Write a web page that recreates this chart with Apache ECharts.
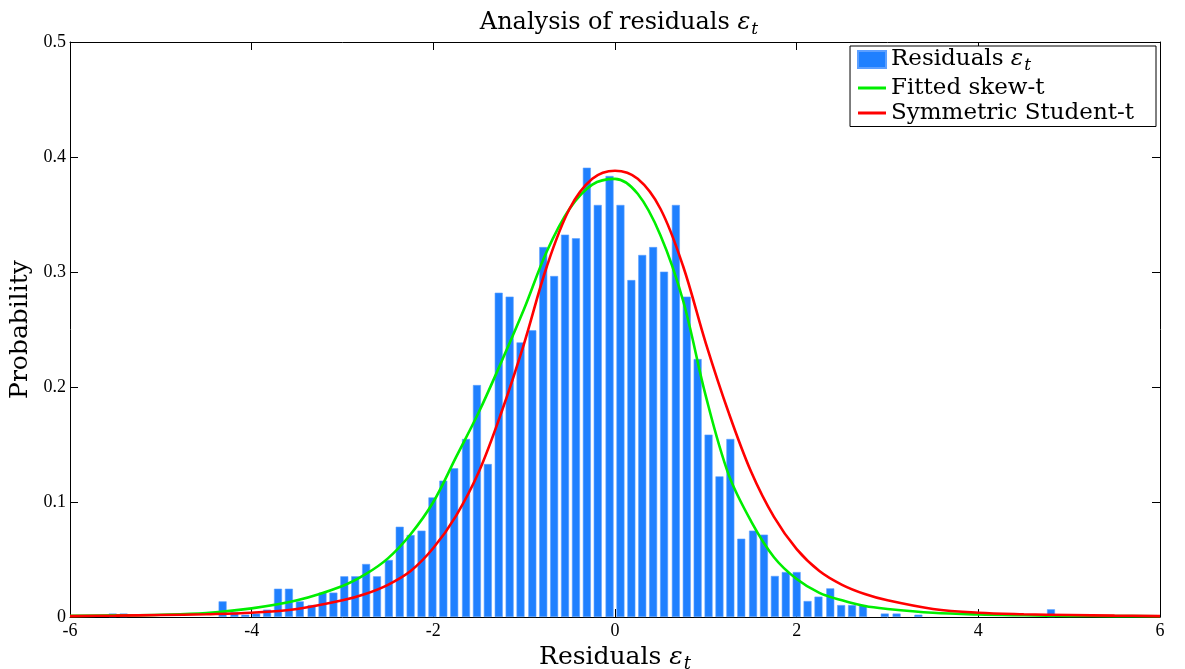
<!DOCTYPE html>
<html>
<head>
<meta charset="utf-8">
<title>Analysis of residuals</title>
<script src="https://cdn.jsdelivr.net/npm/echarts@6/dist/echarts.min.js"></script>
<style>
  html, body { margin: 0; padding: 0; background: #fff; }
  #chart { width: 1185px; height: 669px; }
</style>
</head>
<body>
<div id="chart"></div>
<script>
  // histogram of residuals (bin centres and heights)
  var binCenters = [-5.53, -5.41, -4.32, -4.19, -4.07, -3.95, -3.83, -3.71, -3.59, -3.47, -3.34, -3.22, -3.10,
    -2.98, -2.86, -2.74, -2.62, -2.49, -2.37, -2.25, -2.13, -2.01, -1.89, -1.77, -1.64, -1.52, -1.40, -1.28,
    -1.16, -1.04, -0.91, -0.79, -0.67, -0.55, -0.43, -0.31, -0.19, -0.06, 0.06, 0.18, 0.30, 0.42, 0.54, 0.67,
    0.79, 0.91, 1.03, 1.15, 1.27, 1.39, 1.52, 1.64, 1.76, 1.88, 2.00, 2.12, 2.24, 2.37, 2.49, 2.61, 2.73,
    2.97, 3.10, 3.34, 4.80];
  var binProb = [0.003, 0.003, 0.0136, 0.0043, 0.002, 0.003, 0.0064, 0.0246, 0.0246, 0.0136, 0.0104, 0.0212, 0.0212,
    0.0354, 0.0354, 0.0461, 0.0354, 0.0496, 0.0785, 0.0713, 0.0751, 0.104, 0.1186, 0.1293, 0.1548, 0.2017, 0.133, 0.282,
    0.2786, 0.2388, 0.2493, 0.3217, 0.2965, 0.3325, 0.3293, 0.3907, 0.3583, 0.3835, 0.3583, 0.293, 0.3148, 0.3217, 0.3003, 0.3583,
    0.2786, 0.2243, 0.1586, 0.1223, 0.1548, 0.0681, 0.0751, 0.0716, 0.0357, 0.0391, 0.0391, 0.0139, 0.0177, 0.0249, 0.0104, 0.0104, 0.0104,
    0.003, 0.003, 0.002, 0.0067];

  // fitted densities
  var curveX = [-6, -5.5, -5, -4.5, -4, -3.5, -3, -2.75, -2.5, -2.25, -2, -1.75, -1.5, -1.25, -1, -0.75, -0.5, -0.25, 0,
    0.25, 0.5, 0.75, 1, 1.25, 1.5, 1.75, 2, 2.25, 2.5, 2.75, 3, 3.5, 4, 4.5, 5, 5.5, 6];
  var skewT = [0.0010, 0.0014, 0.0020, 0.0035, 0.0075, 0.0145, 0.027, 0.037, 0.051, 0.072, 0.100, 0.139, 0.178, 0.222, 0.268, 0.318, 0.355, 0.376, 0.381,
    0.368, 0.332, 0.275, 0.192, 0.124, 0.083, 0.052, 0.033, 0.021, 0.0145, 0.0095, 0.007, 0.0037, 0.0022, 0.0015, 0.0010, 0.0008, 0.0006];
  var studentT = [0.0008, 0.0012, 0.0017, 0.0024, 0.0037, 0.0070, 0.0145, 0.020, 0.028, 0.040, 0.060, 0.088, 0.126, 0.178, 0.238, 0.305, 0.355, 0.381, 0.388,
    0.381, 0.355, 0.305, 0.238, 0.178, 0.126, 0.087, 0.059, 0.040, 0.028, 0.020, 0.0145, 0.0070, 0.0037, 0.0024, 0.0017, 0.0012, 0.0008];

  var xTicks = { min: -6, max: 6, interval: 2 };
  var yTicks = { min: 0, max: 0.5, interval: 0.1 };

  var serif = 'DejaVu Serif';
  var tickFont = 'Liberation Serif';
  var lineIcon = 'path://M0,0H28V3H0Z';

  function zip(xs, ys) {
    return xs.map(function (x, i) { return [x, ys[i]]; });
  }

  // rich text styles for the epsilon_t bits
  function richSet(size) {
    return {
      n: { fontFamily: serif, fontSize: size, fontWeight: 'normal', color: '#000' },
      e: { fontFamily: serif, fontSize: size, fontWeight: 'normal', fontStyle: 'italic', color: '#000' },
      s: { fontFamily: serif, fontSize: Math.round(size * 0.72), fontWeight: 'normal', fontStyle: 'italic', color: '#000', padding: [Math.round(size * 0.55), 0, 0, 1] }
    };
  }

  var frameAxis = {
    axisLine: { show: true, onZero: false, lineStyle: { color: '#000', width: 1 } },
    axisTick: { show: true, inside: true, length: 8, lineStyle: { color: '#000' } },
    splitLine: { show: false }
  };

  var chart = echarts.init(document.getElementById('chart'), null, { renderer: 'canvas' });

  chart.setOption({
    backgroundColor: '#fff',
    animation: false,
    title: {
      text: '{n|Analysis of residuals }{e|ε}{s|t}',
      left: 614,
      textAlign: 'center',
      top: 3,
      textStyle: { fontWeight: 'normal', rich: richSet(24) }
    },
    grid: { left: 70, right: 25, top: 42, bottom: 52, outerBoundsMode: 'none' },
    legend: {
      orient: 'vertical',
      right: 29,
      top: 46,
      padding: [2, 22, 2, 7],
      itemGap: 2,
      itemWidth: 28,
      itemHeight: 17,
      symbolKeepAspect: true,
      borderColor: '#000',
      borderWidth: 1,
      borderRadius: 0,
      backgroundColor: '#fff',
      data: [
        { name: 'Residuals', icon: 'rect' },
        { name: 'Fitted skew-t', icon: lineIcon },
        { name: 'Symmetric Student-t', icon: lineIcon }
      ],
      formatter: function (name) {
        if (name === 'Residuals') return '{n|Residuals }{e|ε}{s|t}';
        return '{n|' + name + '}';
      },
      textStyle: { rich: richSet(23) }
    },
    xAxis: [
      Object.assign({
        type: 'value', position: 'bottom',
        min: xTicks.min, max: xTicks.max, interval: xTicks.interval,
        axisLabel: { fontFamily: tickFont, fontSize: 18, color: '#000', margin: 5 },
        name: '{n|Residuals }{e|ε}{s|t}',
        nameLocation: 'middle',
        nameGap: 21,
        nameTextStyle: { rich: richSet(25) }
      }, frameAxis),
      Object.assign({
        type: 'value', position: 'top',
        min: xTicks.min, max: xTicks.max, interval: xTicks.interval,
        axisLabel: { show: false }
      }, frameAxis)
    ],
    yAxis: [
      Object.assign({
        type: 'value', position: 'left',
        min: yTicks.min, max: yTicks.max, interval: yTicks.interval,
        axisLabel: { fontFamily: tickFont, fontSize: 18, color: '#000', margin: 4 },
        name: 'Probability',
        nameLocation: 'middle',
        nameGap: 35,
        nameTextStyle: { fontFamily: serif, fontSize: 25, color: '#000' }
      }, frameAxis),
      Object.assign({
        type: 'value', position: 'right',
        min: yTicks.min, max: yTicks.max, interval: yTicks.interval,
        axisLabel: { show: false }
      }, frameAxis)
    ],
    series: [
      {
        name: 'Residuals',
        type: 'bar',
        xAxisIndex: 0,
        yAxisIndex: 0,
        barWidth: 8,
        itemStyle: { color: '#1f80ff', borderColor: '#5c9fff', borderWidth: 0.6 },
        data: zip(binCenters, binProb)
      },
      {
        name: 'Fitted skew-t',
        type: 'line',
        smooth: 0.35,
        symbol: 'none',
        lineStyle: { color: '#00ee00', width: 2.6 },
        itemStyle: { color: '#00ee00' },
        data: zip(curveX, skewT)
      },
      {
        name: 'Symmetric Student-t',
        type: 'line',
        smooth: 0.35,
        symbol: 'none',
        lineStyle: { color: '#ff0000', width: 2.6 },
        itemStyle: { color: '#ff0000' },
        data: zip(curveX, studentT)
      }
    ]
  });
</script>
</body>
</html>
